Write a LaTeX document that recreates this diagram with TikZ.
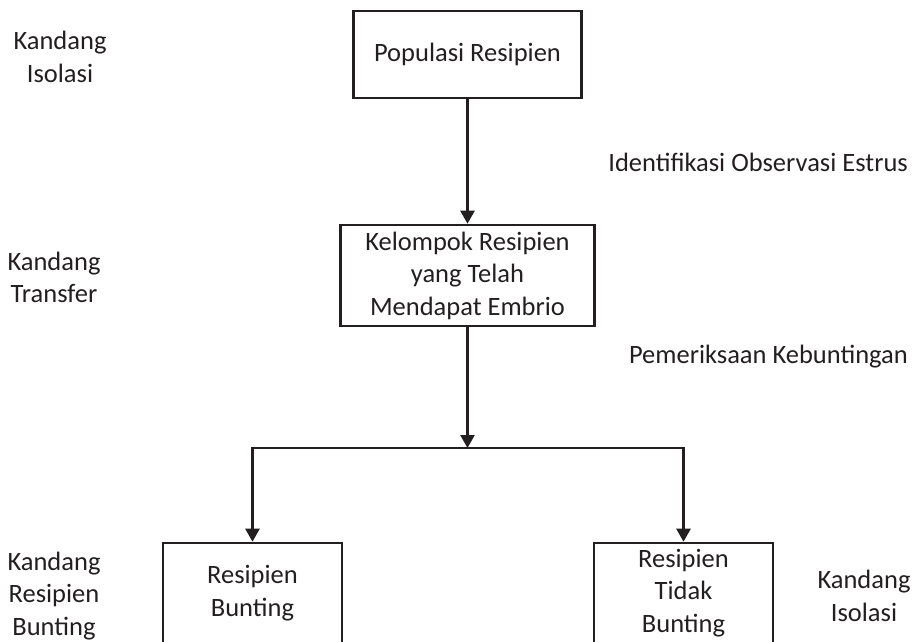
\documentclass[tikz,border=0pt]{standalone}
\usepackage{fontspec}
\setmainfont{Carlito}
\usetikzlibrary{arrows.meta}
\definecolor{ink}{HTML}{231F20}
\tikzset{
  box/.style={draw=ink, line width=2.6pt, rectangle, align=center, text=ink, inner sep=0pt},
  lbl/.style={align=center, text=ink, inner sep=0pt},
  arr/.style={draw=ink, line width=2.6pt, -{Triangle[width=14pt,length=13pt]}},
  conn/.style={draw=ink, line width=2.6pt}
}
\begin{document}
\begin{tikzpicture}[x=1pt,y=-1pt, font=\fontsize{26.5}{32.5}\selectfont]
\useasboundingbox (0,0) rectangle (915,641);
\clip (0,0) rectangle (915,641);
\node[box, minimum width=228pt, minimum height=87pt] (p1) at (467.5,54.5) {Populasi Resipien};
\node[box, minimum width=254pt, minimum height=101pt] (p2) at (467.5,275.5) {Kelompok Resipien\\yang Telah\\Mendapat Embrio};
\node[box, minimum width=179pt, minimum height=100pt] (p3) at (252.5,593) {Resipien\\Bunting};
\node[box, minimum width=179pt, minimum height=100pt] (p4) at (683.5,593) {Resipien\\Tidak\\Bunting};
\coordinate (j) at (467.5,448);
\draw[arr] (p1) -- (p2);
\draw[arr] (p2) -- (j);
\draw[arr] (j) -| (p3.north);
\draw[arr] (j) -| (p4.north);
\node[lbl] (l1) at (60,57) {Kandang\\Isolasi};
\node[lbl] (l2) at (54,277.5) {Kandang\\Transfer};
\node[lbl] (l3) at (54,596) {Kandang\\Resipien\\Bunting};
\node[lbl] (l4) at (864,596) {Kandang\\Isolasi};
\node[lbl, anchor=east] (e1) at (908,162) {Identifikasi Observasi Estrus};
\node[lbl, anchor=east] (e2) at (908,357) {Pemeriksaan Kebuntingan};
\end{tikzpicture}
\end{document}
